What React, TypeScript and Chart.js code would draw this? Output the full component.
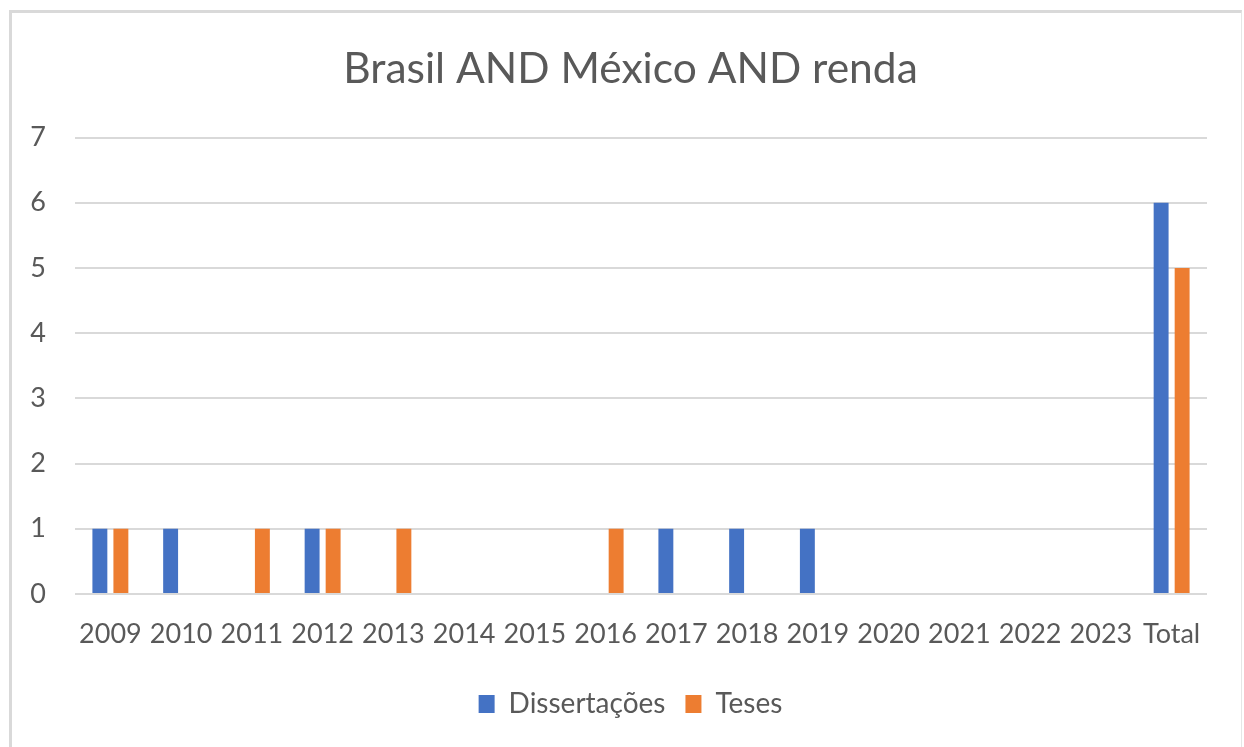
import React, { useEffect, useRef } from "react";
import { Chart, registerables } from "chart.js";

Chart.register(...registerables);

const categories = ["2009", "2010", "2011", "2012", "2013", "2014", "2015", "2016", "2017", "2018", "2019", "2020", "2021", "2022", "2023", "Total"];
const dissertacoes = [1, 1, 0, 1, 0, 0, 0, 0, 1, 1, 1, 0, 0, 0, 0, 6];
const teses = [1, 0, 1, 1, 1, 0, 0, 1, 0, 0, 0, 0, 0, 0, 0, 5];
const yTicks = [0, 1, 2, 3, 4, 5, 6, 7];
const titleText = "Brasil AND México AND renda";

const FONT = "Lato, 'Open Sans', sans-serif";
const TEXT = "#595959";

export default function App() {
  const ref = useRef<HTMLCanvasElement | null>(null);
  useEffect(() => {
    if (!ref.current) return;
    const chart = new Chart(ref.current, {
      type: "bar",
      data: {
        labels: categories,
        datasets: [
          { label: "Dissertações", data: dissertacoes, backgroundColor: "#4472C4", categoryPercentage: 0.594, barPercentage: 0.71 },
          { label: "Teses", data: teses, backgroundColor: "#ED7D31", categoryPercentage: 0.594, barPercentage: 0.71 },
        ],
      },
      options: {
        animation: false,
        responsive: true,
        maintainAspectRatio: false,
        layout: { padding: { left: 17, right: 0, top: 0, bottom: 19 } },
        plugins: {
          title: {
            display: true,
            text: titleText,
            color: TEXT,
            font: { family: FONT, size: 42.5, weight: "normal" },
            padding: { top: 43.5, bottom: 43 },
          },
          legend: {
            position: "bottom",
            labels: {
              color: TEXT,
              font: { family: FONT, size: 28 },
              boxWidth: 16,
              boxHeight: 18,
              padding: 20,
            },
          },
          tooltip: { enabled: false },
        },
        scales: {
          x: {
            afterFit: (s: any) => { s.height = 76; },
            grid: { display: false, drawTicks: false },
            border: { display: false },
            ticks: { color: TEXT, font: { family: FONT, size: 27 }, padding: 24, maxRotation: 0, autoSkip: false },
          },
          y: {
            min: 0,
            max: 7,
            afterFit: (s: any) => { s.width = 58; },
            afterBuildTicks: (s: any) => { s.ticks = yTicks.map((v) => ({ value: v })); },
            grid: { color: "#D9D9D9", lineWidth: 2, drawTicks: false },
            border: { display: false },
            ticks: { color: TEXT, font: { family: FONT, size: 27 }, padding: 29 },
          },
          yRight: {
            position: "right",
            display: true,
            afterFit: (s: any) => { s.width = 37; },
            grid: { display: false, drawTicks: false },
            border: { display: false },
            ticks: { display: false },
          },
        },
      },
    });
    return () => chart.destroy();
  }, []);
  return (
    <div style={{ position: "fixed", left: 0, top: 0, width: 1244, height: 747, background: "#fff", overflow: "hidden" }}>
      <div style={{ position: "absolute", left: 0, top: 0, width: 1244, height: 747 }}>
        <canvas ref={ref} />
      </div>
      <div style={{ position: "absolute", left: 9, top: 10, width: 1233, height: 760, borderTop: "3px solid #D9D9D9", borderLeft: "3px solid #D9D9D9", borderRight: "1px solid #E6E6E6", boxSizing: "border-box", pointerEvents: "none" }} />
    </div>
  );
}
